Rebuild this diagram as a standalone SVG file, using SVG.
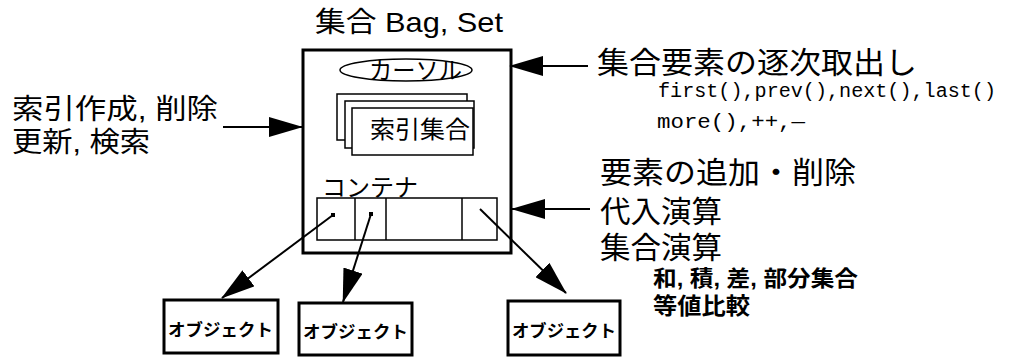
<svg xmlns="http://www.w3.org/2000/svg" width="1009" height="357" viewBox="0 0 1009 357">
<style>
.jp{font-family:"Liberation Sans","Noto Sans CJK JP",sans-serif;fill:#000}
.mono{font-family:"Liberation Mono","DejaVu Sans Mono",monospace;fill:#000}
.thick{fill:#fff;stroke:#000;stroke-width:3}
.thin{fill:#fff;stroke:#000;stroke-width:1.5}
.conn{stroke:#000;stroke-width:2;fill:none;marker-end:url(#ah)}
</style>
<defs>
<marker id="ah" markerUnits="userSpaceOnUse" markerWidth="34" markerHeight="20" refX="33" refY="10" orient="auto">
<path d="M0,0 L34,10 L0,20 z" fill="#000"/>
</marker>
</defs>
<rect width="1009" height="357" fill="#fff"/>

<g id="title"><text class="jp" x="315" y="32" font-size="28" textLength="188" lengthAdjust="spacingAndGlyphs">集合 Bag, Set</text></g>

<g id="bag">
<rect class="thick" x="303" y="50" width="208" height="203"/>
</g>

<g id="cursor">
<ellipse cx="406" cy="70" rx="66" ry="11" fill="#fff" stroke="#000" stroke-width="1.5"/>
<text class="jp" x="369" y="79" font-size="24" textLength="93" lengthAdjust="spacingAndGlyphs">カーソル</text>
</g>

<g id="index">
<rect class="thin" x="337" y="94" width="130" height="46"/>
<rect class="thin" x="345" y="101" width="129" height="47"/>
<rect class="thin" x="352" y="108" width="121" height="47"/>
<text class="jp" x="370" y="138" font-size="24" textLength="100" lengthAdjust="spacingAndGlyphs">索引集合</text>
</g>

<g id="container">
<text class="jp" x="322" y="196" font-size="24" textLength="96" lengthAdjust="spacingAndGlyphs">コンテナ</text>
<rect class="thin" x="317" y="198" width="180" height="42"/>
<line x1="355" y1="198" x2="355" y2="240" stroke="#000" stroke-width="1.5"/>
<line x1="386" y1="198" x2="386" y2="240" stroke="#000" stroke-width="1.5"/>
<line x1="462" y1="198" x2="462" y2="240" stroke="#000" stroke-width="1.5"/>
<rect x="331" y="213" width="4" height="4" fill="#000"/>
<rect x="369" y="212" width="4" height="4" fill="#000"/>
</g>

<g id="obj1">
<rect class="thick" x="164" y="300" width="114" height="53"/>
<text class="jp" x="168" y="336" font-size="17" font-weight="bold" textLength="105" lengthAdjust="spacingAndGlyphs">オブジェクト</text>
</g>
<g id="obj2">
<rect class="thick" x="299" y="303" width="113" height="52"/>
<text class="jp" x="303" y="338" font-size="17" font-weight="bold" textLength="105" lengthAdjust="spacingAndGlyphs">オブジェクト</text>
</g>
<g id="obj3">
<rect class="thick" x="508" y="301" width="112" height="54"/>
<text class="jp" x="512" y="337" font-size="17" font-weight="bold" textLength="104" lengthAdjust="spacingAndGlyphs">オブジェクト</text>
</g>

<g id="left-label">
<text class="jp" x="12" y="119" font-size="28" textLength="206" lengthAdjust="spacingAndGlyphs">索引作成, 削除</text>
<text class="jp" x="12" y="152" font-size="28" textLength="138" lengthAdjust="spacingAndGlyphs">更新, 検索</text>
</g>

<g id="right-label1">
<text class="jp" x="597" y="73" font-size="30" textLength="320" lengthAdjust="spacingAndGlyphs">集合要素の逐次取出し</text>
<text class="mono" x="658" y="97" font-size="20" textLength="338" lengthAdjust="spacingAndGlyphs">first(),prev(),next(),last()</text>
<text class="mono" x="657" y="128" font-size="20" textLength="148" lengthAdjust="spacingAndGlyphs">more(),++,—</text>
</g>

<g id="right-label2">
<text class="jp" x="600" y="183" font-size="30" textLength="256" lengthAdjust="spacingAndGlyphs">要素の追加・削除</text>
<text class="jp" x="600" y="222" font-size="30" textLength="122" lengthAdjust="spacingAndGlyphs">代入演算</text>
<text class="jp" x="600" y="258" font-size="30" textLength="122" lengthAdjust="spacingAndGlyphs">集合演算</text>
<text class="jp" x="653" y="286" font-size="22" font-weight="bold" textLength="205" lengthAdjust="spacingAndGlyphs">和, 積, 差, 部分集合</text>
<text class="jp" x="653" y="314" font-size="23" font-weight="bold" textLength="97" lengthAdjust="spacingAndGlyphs">等値比較</text>
</g>

<g id="connectors">
<line class="conn" x1="223" y1="127" x2="302" y2="127"/>
<line class="conn" x1="588" y1="66" x2="510" y2="66"/>
<line class="conn" x1="590" y1="209" x2="512" y2="209"/>
<line class="conn" x1="333" y1="215" x2="222" y2="298"/>
<line class="conn" x1="371" y1="214" x2="343" y2="302"/>
<line class="conn" x1="480" y1="209" x2="566" y2="293"/>
</g>
</svg>
